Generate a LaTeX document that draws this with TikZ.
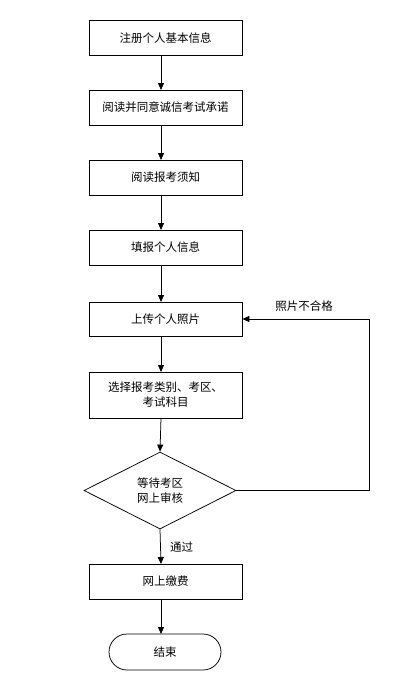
\documentclass[tikz,border=0pt]{standalone}
\usepackage{fontspec}
\newfontfamily\cjk{Noto Sans CJK SC}
\usetikzlibrary{shapes.geometric,shapes.misc,arrows.meta}
\begin{document}
\begin{tikzpicture}[x=1pt,y=-1pt,
  every node/.style={font=\cjk\fontsize{11.5}{15}\selectfont},
  stepbox/.style={draw,line width=0.75pt,minimum width=153pt,inner sep=0pt,align=center},
  arr/.style={line width=0.75pt,-{Triangle[length=7pt,width=6pt]}}]
\useasboundingbox (0,0) rectangle (418,697);
\node[stepbox,minimum height=35pt] (b1) at (165.5,38) {注册个人基本信息};
\node[stepbox,minimum height=35pt] (b2) at (165.5,107.5) {阅读并同意诚信考试承诺};
\node[stepbox,minimum height=35pt] (b3) at (165.5,177.5) {阅读报考须知};
\node[stepbox,minimum height=35pt] (b4) at (165.5,247.5) {填报个人信息};
\node[stepbox,minimum height=34pt] (b5) at (165.5,319) {上传个人照片};
\node[stepbox,minimum height=46pt] (b6) at (165.5,395) {选择报考类别、考区、\\考试科目};
\node[draw,line width=0.75pt,diamond,aspect=2,minimum width=152pt,minimum height=77pt,inner sep=0pt,align=center] (d) at (160,490.5) {等待考区\\网上审核};
\node[stepbox,minimum height=35pt] (b7) at (165.5,581.5) {网上缴费};
\node[draw,line width=0.75pt,rounded rectangle,minimum width=112pt,minimum height=36pt,inner sep=0pt] (e) at (165,652) {结束};
\coordinate (c1) at (369,490.5);
\coordinate (c2) at (369,319);
\draw[arr] (161,55.5) -- (161,90);
\draw[arr] (161,125) -- (161,160);
\draw[arr] (161,195) -- (161,230);
\draw[arr] (161,265) -- (161,302);
\draw[arr] (161,336) -- (161,372);
\draw[arr] (161,418) -- (d.north);
\draw[arr] (d.south) -- (161,564) node[midway,right=6pt] (t1) {通过};
\draw[arr] (161,599) -- (161,634);
\draw[arr] (d.east) -- (c1) -- (c2) -- (b5.east);
\node (t2) at (304,306) {照片不合格};
\end{tikzpicture}
\end{document}
